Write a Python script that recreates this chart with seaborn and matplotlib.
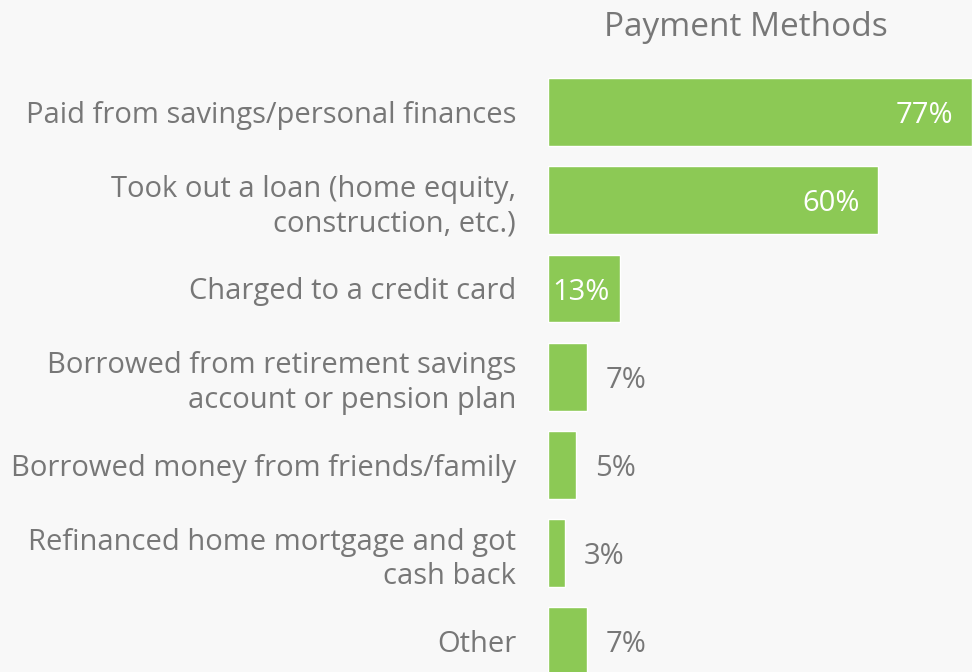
import pandas as pd
import seaborn as sns
import matplotlib.pyplot as plt

methods = [
    "Paid from savings/personal finances",
    "Took out a loan (home equity,\nconstruction, etc.)",
    "Charged to a credit card",
    "Borrowed from retirement savings\naccount or pension plan",
    "Borrowed money from friends/family",
    "Refinanced home mortgage and got\ncash back",
    "Other",
]
shares = [77, 60, 13, 7, 5, 3, 7]

BG = "#f8f8f8"
GREEN = "#8cc955"
GRAY = "#777777"

sns.set_style("white")
plt.rcParams["font.family"] = ["Open Sans", "DejaVu Sans"]

df = pd.DataFrame({"method": methods, "share": shares})

fig = plt.figure(figsize=(9.72, 6.72), dpi=100, facecolor=BG)
ax = fig.add_axes([548 / 972, 0, 1 - 548 / 972, (672 - 68) / 672])
ax.set_facecolor(BG)

sns.barplot(data=df, x="share", y="method", color=GREEN, width=0.77,
            saturation=1, ax=ax)

step = 88.2
ax.set_xlim(0, 77)
ax.set_ylim(-0.5 + (672 - 68) / step, -0.5)

for s in ax.spines.values():
    s.set_visible(False)
ax.set_xticks([])
ax.set_xlabel("")
ax.set_ylabel("")
ax.tick_params(axis="y", length=0, pad=23)
for lbl in ax.get_yticklabels():
    lbl.set_fontsize(21)
    lbl.set_color(GRAY)
    lbl.set_horizontalalignment("right")
    lbl.set_multialignment("right")
    lbl.set_linespacing(1.25)

# value labels: inside the long bars, outside the short ones
for i, v in enumerate(shares):
    if v >= 10:
        off = -13.5 if v >= 20 else -7
        ax.annotate(f"{v}%", (v, i), xytext=(off, 0), textcoords="offset points",
                    ha="right", va="center_baseline", fontsize=21, color="white")
    else:
        ax.annotate(f"{v}%", (v, i), xytext=(14, 0), textcoords="offset points",
                    ha="left", va="center_baseline", fontsize=21, color=GRAY)

fig.text(746 / 972, 1 - 28 / 672, "Payment Methods", ha="center", va="center",
         fontsize=24, color=GRAY)

fig.savefig("out.png", dpi=100, facecolor=BG)
